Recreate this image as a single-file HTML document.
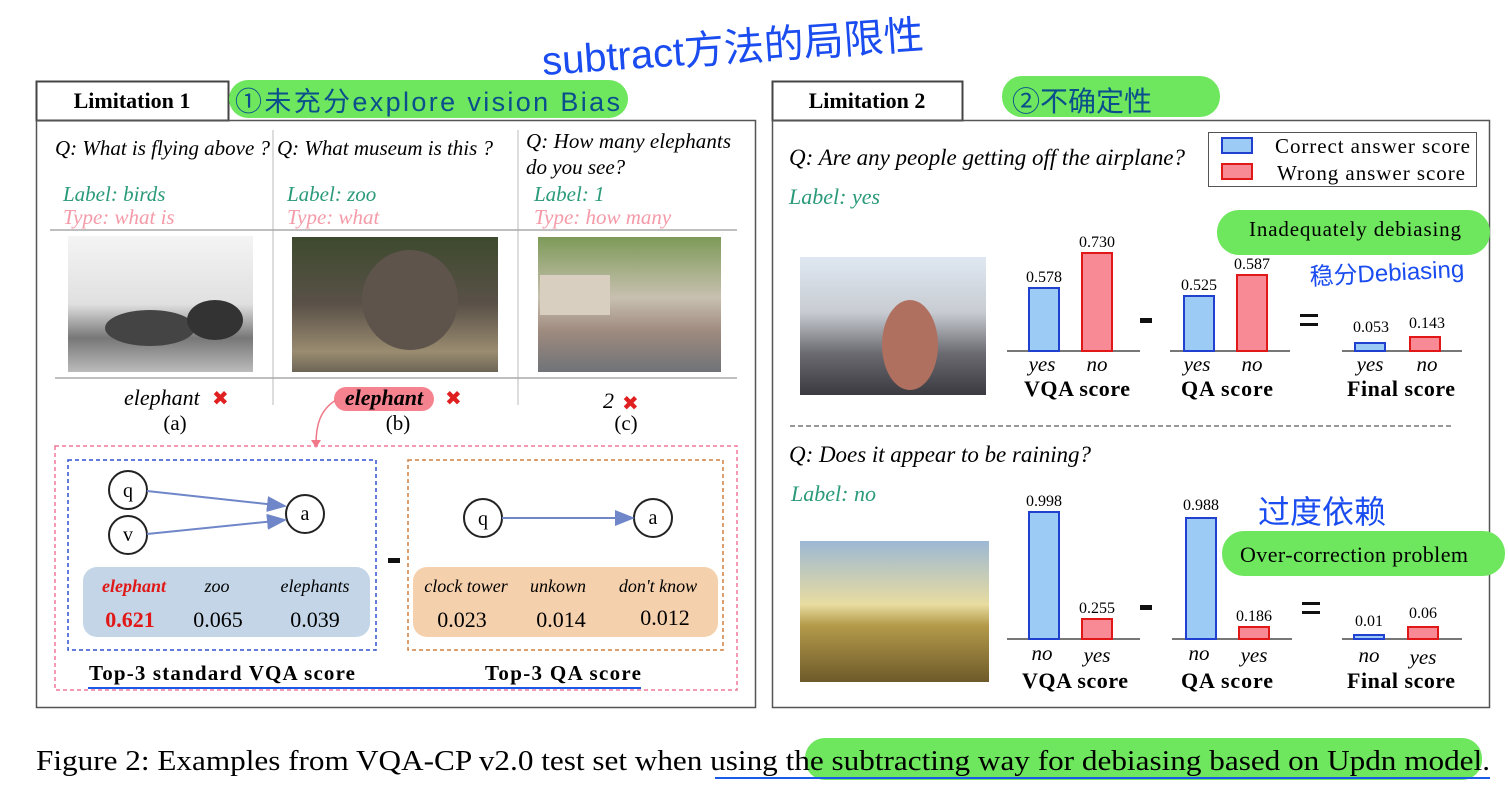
<!DOCTYPE html>
<html><head><meta charset="utf-8"><style>
html,body{margin:0;padding:0;background:#fff;}
svg{display:block}
.s{font-family:"Liberation Serif",serif}
.i{font-family:"Liberation Serif",serif;font-style:italic}
.h{font-family:"Liberation Sans","Noto Sans CJK SC",sans-serif;fill:#1a4cf0}
</style></head><body>
<svg width="1508" height="795" viewBox="0 0 1508 795" xmlns="http://www.w3.org/2000/svg">
<defs>
<marker id="ar" markerWidth="10" markerHeight="8" refX="9" refY="4" orient="auto"><path d="M0,0 L10,4 L0,8 z" fill="#6f86c8"/></marker>
<linearGradient id="sky" x1="0" y1="0" x2="0" y2="1"><stop offset="0" stop-color="#9cb8d4"/><stop offset="0.45" stop-color="#e8dca0"/><stop offset="0.6" stop-color="#b39a4a"/><stop offset="1" stop-color="#6e5a2a"/></linearGradient>
<linearGradient id="gray" x1="0" y1="0" x2="0" y2="1"><stop offset="0" stop-color="#f4f4f4"/><stop offset="0.5" stop-color="#e0e0e0"/><stop offset="0.75" stop-color="#777"/><stop offset="1" stop-color="#bbb"/></linearGradient>
<linearGradient id="zoo" x1="0" y1="0" x2="0" y2="1"><stop offset="0" stop-color="#3d4a2e"/><stop offset="0.5" stop-color="#5a5148"/><stop offset="0.85" stop-color="#9a8c70"/><stop offset="1" stop-color="#6c6456"/></linearGradient>
<linearGradient id="street" x1="0" y1="0" x2="0" y2="1"><stop offset="0" stop-color="#7d9a58"/><stop offset="0.45" stop-color="#c8c0b0"/><stop offset="0.7" stop-color="#9e8a7e"/><stop offset="1" stop-color="#6f7378"/></linearGradient>
<linearGradient id="plane" x1="0" y1="0" x2="0" y2="1"><stop offset="0" stop-color="#dfe8f2"/><stop offset="0.4" stop-color="#c8ccd2"/><stop offset="0.7" stop-color="#6a6a70"/><stop offset="1" stop-color="#3a3a40"/></linearGradient>
</defs>

<text x="543" y="75" class="h" font-size="40" transform="rotate(-4 543 75)">subtract方法的局限性</text>

<!-- LEFT PANEL -->
<rect x="36.5" y="81.5" width="192" height="39" fill="#fff" stroke="#444" stroke-width="2"/>
<text x="132" y="108" class="s" font-size="22" font-weight="bold" text-anchor="middle">Limitation 1</text>
<rect x="229" y="80" width="399" height="38" rx="19" fill="#6ee65e"/>
<text x="235" y="111" font-family="Liberation Sans,'Noto Sans CJK SC',sans-serif" font-size="27" fill="#0a4f8c" textLength="385">①未充分explore vision Bias</text>
<rect x="36.5" y="120.5" width="719" height="587" fill="none" stroke="#555" stroke-width="1.5"/>
<line x1="273" y1="130" x2="273" y2="405" stroke="#bbb"/>
<line x1="518" y1="130" x2="518" y2="405" stroke="#bbb"/>
<text x="55" y="155" class="i" font-size="21" textLength="215">Q: What is flying above ?</text>
<text x="277" y="155" class="i" font-size="21" textLength="216">Q: What museum is this ?</text>
<text x="526" y="148" class="i" font-size="21" textLength="205">Q: How many elephants</text>
<text x="526" y="174" class="i" font-size="21">do you see?</text>
<text x="63" y="201" class="i" font-size="21" fill="#2a9a7a">Label: birds</text>
<text x="63" y="224" class="i" font-size="21" fill="#f59aa8">Type: what is</text>
<text x="287" y="201" class="i" font-size="21" fill="#2a9a7a">Label: zoo</text>
<text x="287" y="224" class="i" font-size="21" fill="#f59aa8">Type: what</text>
<text x="534" y="201" class="i" font-size="21" fill="#2a9a7a">Label: 1</text>
<text x="534" y="224" class="i" font-size="21" fill="#f59aa8">Type: how many</text>
<line x1="50" y1="230" x2="737" y2="230" stroke="#aaa" stroke-width="1.5"/>
<rect x="68" y="236" width="185" height="136" fill="url(#gray)"/>
<ellipse cx="150" cy="328" rx="45" ry="18" fill="#444"/><ellipse cx="215" cy="320" rx="28" ry="20" fill="#333"/>
<rect x="292" y="237" width="206" height="135" fill="url(#zoo)"/>
<ellipse cx="410" cy="300" rx="48" ry="50" fill="#5e544c"/>
<rect x="538" y="237" width="183" height="135" fill="url(#street)"/>
<rect x="540" y="275" width="70" height="40" fill="#d8cfc0"/>
<line x1="55" y1="378" x2="737" y2="378" stroke="#aaa" stroke-width="1.5"/>
<text x="124" y="405" class="i" font-size="22">elephant</text>
<text x="212" y="405" font-family="DejaVu Sans" font-size="20" fill="#e02020" font-weight="bold">✖</text>
<text x="175" y="430" class="s" font-size="21" text-anchor="middle">(a)</text>
<rect x="334" y="387" width="100" height="24" rx="12" fill="#f4838f"/>
<text x="384" y="405" class="i" font-size="22" font-weight="bold" text-anchor="middle">elephant</text>
<text x="445" y="405" font-family="DejaVu Sans" font-size="20" fill="#e02020" font-weight="bold">✖</text>
<text x="398" y="430" class="s" font-size="21" text-anchor="middle">(b)</text>
<text x="603" y="408" class="i" font-size="22">2</text>
<text x="622" y="410" font-family="DejaVu Sans" font-size="20" fill="#e02020" font-weight="bold">✖</text>
<text x="626" y="430" class="s" font-size="21" text-anchor="middle">(c)</text>
<path d="M336,400 C320,410 316,425 316,444" fill="none" stroke="#f07888" stroke-width="1.5"/>
<path d="M311,440 L316,448 L321,440 z" fill="#f07888"/>
<rect x="55" y="446" width="682" height="244" fill="none" stroke="#f07898" stroke-width="1.5" stroke-dasharray="4,3"/>
<rect x="68" y="460" width="308" height="190" fill="none" stroke="#3050d0" stroke-width="1.5" stroke-dasharray="4,3"/>
<rect x="408" y="460" width="315" height="190" fill="none" stroke="#d08040" stroke-width="1.5" stroke-dasharray="4,3"/>
<circle cx="128" cy="490" r="19" fill="#fff" stroke="#222" stroke-width="2"/>
<text x="128" y="497" class="s" font-size="20" text-anchor="middle">q</text>
<circle cx="128" cy="535" r="19" fill="#fff" stroke="#222" stroke-width="2"/>
<text x="128" y="541" class="s" font-size="20" text-anchor="middle">v</text>
<circle cx="305" cy="514" r="19" fill="#fff" stroke="#222" stroke-width="2"/>
<text x="305" y="520" class="s" font-size="20" text-anchor="middle">a</text>
<line x1="147" y1="491" x2="285" y2="506" stroke="#6f86c8" stroke-width="2" marker-end="url(#ar)"/>
<line x1="147" y1="534" x2="285" y2="520" stroke="#6f86c8" stroke-width="2" marker-end="url(#ar)"/>
<circle cx="483" cy="518" r="19" fill="#fff" stroke="#222" stroke-width="2"/>
<text x="483" y="525" class="s" font-size="20" text-anchor="middle">q</text>
<circle cx="653" cy="518" r="19" fill="#fff" stroke="#222" stroke-width="2"/>
<text x="653" y="524" class="s" font-size="20" text-anchor="middle">a</text>
<line x1="502" y1="518" x2="633" y2="518" stroke="#6f86c8" stroke-width="2" marker-end="url(#ar)"/>
<rect x="83" y="567" width="287" height="70" rx="14" fill="#c3d5e6"/>
<text x="134" y="592" class="i" font-size="18" font-weight="bold" fill="#e01818" text-anchor="middle">elephant</text>
<text x="217" y="592" class="i" font-size="18" text-anchor="middle">zoo</text>
<text x="315" y="592" class="i" font-size="18" text-anchor="middle">elephants</text>
<text x="130" y="627" class="s" font-size="22" font-weight="bold" fill="#e01818" text-anchor="middle">0.621</text>
<text x="218" y="627" class="s" font-size="22" text-anchor="middle">0.065</text>
<text x="315" y="627" class="s" font-size="22" text-anchor="middle">0.039</text>
<rect x="388" y="558" width="12" height="5" fill="#111"/>
<rect x="413" y="567" width="305" height="70" rx="14" fill="#f5d0ac"/>
<text x="466" y="592" class="i" font-size="18" text-anchor="middle">clock tower</text>
<text x="558" y="592" class="i" font-size="18" text-anchor="middle">unkown</text>
<text x="658" y="592" class="i" font-size="18" text-anchor="middle">don't know</text>
<text x="462" y="627" class="s" font-size="22" text-anchor="middle">0.023</text>
<text x="561" y="627" class="s" font-size="22" text-anchor="middle">0.014</text>
<text x="665" y="625" class="s" font-size="22" text-anchor="middle">0.012</text>
<text x="222" y="680" class="s" font-size="21" font-weight="bold" text-anchor="middle" textLength="266">Top-3 standard VQA score</text>
<text x="563" y="680" class="s" font-size="21" font-weight="bold" text-anchor="middle" textLength="156">Top-3 QA score</text>
<line x1="88" y1="688" x2="641" y2="688" stroke="#1a5ae8" stroke-width="2"/>

<!-- RIGHT PANEL -->
<rect x="772.5" y="81.5" width="190" height="39" fill="#fff" stroke="#444" stroke-width="2"/>
<text x="867" y="108" class="s" font-size="22" font-weight="bold" text-anchor="middle">Limitation 2</text>
<rect x="1002" y="76" width="218" height="41" rx="20" fill="#6ee65e"/>
<text x="1012" y="111" font-family="Liberation Sans,'Noto Sans CJK SC',sans-serif" font-size="28" fill="#0a4f8c">②不确定性</text>
<rect x="772.5" y="120.5" width="717" height="587" fill="none" stroke="#555" stroke-width="1.5"/>
<text x="789" y="165" class="i" font-size="23" textLength="396">Q: Are any people getting off the airplane?</text>
<text x="789" y="204" class="i" font-size="22" fill="#2a9a7a">Label: yes</text>
<rect x="1208.5" y="132.5" width="268" height="54" fill="#fff" stroke="#555"/>
<rect x="1222" y="138" width="30" height="15" fill="#9ccbf5" stroke="#2040d0" stroke-width="2"/>
<rect x="1222" y="164" width="30" height="15" fill="#f88a96" stroke="#e01818" stroke-width="2"/>
<text x="1275" y="153" class="s" font-size="21" textLength="195">Correct answer score</text>
<text x="1277" y="180" class="s" font-size="21" textLength="188">Wrong answer score</text>
<rect x="1217" y="210" width="273" height="45" rx="22" fill="#6ee65e"/>
<text x="1355" y="236" class="s" font-size="21" text-anchor="middle" textLength="212">Inadequately debiasing</text>
<text x="1310" y="285" class="h" font-size="24" transform="rotate(-3 1310 285)">稳分Debiasing</text>
<rect x="800" y="257" width="186" height="138" fill="url(#plane)"/>
<ellipse cx="910" cy="345" rx="28" ry="45" fill="#b07060"/>
<g stroke-width="2">
<line x1="1007" y1="351" x2="1140" y2="351" stroke="#777"/>
<rect x="1029" y="288" width="30" height="63" fill="#9ccbf5" stroke="#2040d0"/>
<rect x="1082" y="253" width="30" height="98" fill="#f88a96" stroke="#e01818"/>
<line x1="1170" y1="351" x2="1290" y2="351" stroke="#777"/>
<rect x="1184" y="296" width="30" height="55" fill="#9ccbf5" stroke="#2040d0"/>
<rect x="1237" y="275" width="30" height="76" fill="#f88a96" stroke="#e01818"/>
<line x1="1342" y1="351" x2="1462" y2="351" stroke="#777"/>
<rect x="1355" y="343" width="30" height="8" fill="#9ccbf5" stroke="#2040d0"/>
<rect x="1410" y="337" width="30" height="14" fill="#f88a96" stroke="#e01818"/>
</g>
<g class="s" font-size="16" text-anchor="middle">
<text x="1044" y="282">0.578</text><text x="1097" y="247">0.730</text>
<text x="1199" y="290">0.525</text><text x="1252" y="269">0.587</text>
<text x="1371" y="332">0.053</text><text x="1427" y="328">0.143</text>
</g>
<g class="i" font-size="21" text-anchor="middle">
<text x="1042" y="371">yes</text><text x="1097" y="371">no</text>
<text x="1197" y="371">yes</text><text x="1252" y="371">no</text>
<text x="1370" y="371">yes</text><text x="1427" y="371">no</text>
</g>
<g class="s" font-size="22" font-weight="bold" text-anchor="middle">
<text x="1077" y="396" textLength="106">VQA score</text><text x="1227" y="396" textLength="92">QA score</text><text x="1401" y="396" textLength="108">Final score</text>
</g>
<rect x="1140" y="318" width="12" height="5" fill="#111"/>
<rect x="1300" y="314" width="18" height="3" fill="#111"/><rect x="1300" y="323" width="18" height="3" fill="#111"/>
<line x1="790" y1="426" x2="1452" y2="426" stroke="#777" stroke-width="1.5" stroke-dasharray="5,3"/>

<text x="789" y="462" class="i" font-size="23" textLength="302">Q: Does it appear to be raining?</text>
<text x="791" y="501" class="i" font-size="22" fill="#2a9a7a">Label: no</text>
<text x="1258" y="523" class="h" font-size="32">过度依赖</text>
<rect x="1222" y="531" width="283" height="45" rx="22" fill="#6ee65e"/>
<text x="1354" y="562" class="s" font-size="22" text-anchor="middle" textLength="228">Over-correction problem</text>
<rect x="800" y="541" width="189" height="141" fill="url(#sky)"/>
<g stroke-width="2">
<line x1="1007" y1="639" x2="1140" y2="639" stroke="#777"/>
<rect x="1029" y="512" width="30" height="127" fill="#9ccbf5" stroke="#2040d0"/>
<rect x="1082" y="619" width="30" height="20" fill="#f88a96" stroke="#e01818"/>
<line x1="1172" y1="639" x2="1292" y2="639" stroke="#777"/>
<rect x="1186" y="518" width="30" height="121" fill="#9ccbf5" stroke="#2040d0"/>
<rect x="1239" y="627" width="30" height="12" fill="#f88a96" stroke="#e01818"/>
<line x1="1342" y1="639" x2="1462" y2="639" stroke="#777"/>
<rect x="1354" y="635" width="30" height="4" fill="#9ccbf5" stroke="#2040d0"/>
<rect x="1408" y="627" width="30" height="12" fill="#f88a96" stroke="#e01818"/>
</g>
<g class="s" font-size="16" text-anchor="middle">
<text x="1044" y="506">0.998</text><text x="1097" y="613">0.255</text>
<text x="1201" y="510">0.988</text><text x="1254" y="621">0.186</text>
<text x="1369" y="626">0.01</text><text x="1423" y="618">0.06</text>
</g>
<g class="i" font-size="21" text-anchor="middle">
<text x="1042" y="660">no</text><text x="1097" y="662">yes</text>
<text x="1199" y="660">no</text><text x="1254" y="662">yes</text>
<text x="1369" y="662">no</text><text x="1423" y="664">yes</text>
</g>
<g class="s" font-size="22" font-weight="bold" text-anchor="middle">
<text x="1075" y="688" textLength="106">VQA score</text><text x="1227" y="688" textLength="92">QA score</text><text x="1401" y="688" textLength="108">Final score</text>
</g>
<rect x="1140" y="605" width="12" height="5" fill="#111"/>
<rect x="1302" y="602" width="18" height="3" fill="#111"/><rect x="1302" y="611" width="18" height="3" fill="#111"/>

<rect x="805" y="738" width="677" height="42" rx="20" fill="#6ee65e"/>
<text x="36" y="770" class="s" font-size="28" textLength="1454" lengthAdjust="spacingAndGlyphs">Figure 2: Examples from VQA-CP v2.0 test set when using the subtracting way for debiasing based on Updn model.</text>
<line x1="715" y1="778" x2="1490" y2="778" stroke="#1a5ae8" stroke-width="2"/>
</svg>
</body></html>
